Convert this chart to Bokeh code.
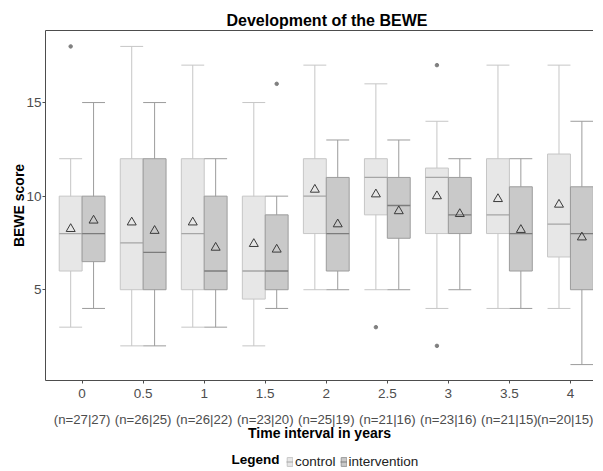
from bokeh.plotting import figure
from bokeh.layouts import column
from bokeh.models import (Range1d, LinearAxis, FixedTicker, Legend, LegendItem, ColumnDataSource, Label, Spacer)
from bokeh.embed import file_html
from bokeh.resources import INLINE

# ---------------- data ----------------
intervals = ["0", "0.5", "1", "1.5", "2", "2.5", "3", "3.5", "4"]
n_labels = ["(n=27|27)", "(n=26|25)", "(n=26|22)", "(n=23|20)", "(n=25|19)",
            "(n=21|16)", "(n=23|16)", "(n=21|15)", "(n=20|15)"]

ctrl_low = [3, 2, 3, 2, 5, 5, 4, 4, 4]
ctrl_q1 = [6, 5, 5, 4.5, 8, 9, 8, 8, 6.75]
ctrl_med = [8, 7.5, 8, 6, 10, 11, 11, 9, 8.5]
ctrl_q3 = [10, 12, 12, 10, 12, 12, 11.5, 12, 12.25]
ctrl_high = [12, 18, 17, 15, 17, 16, 14, 17, 17]
ctrl_mean = [8.25, 8.6, 8.6, 7.45, 10.35, 10.1, 10.0, 9.85, 9.55]
ctrl_out_cat = ["0", "2.5", "3", "3"]
ctrl_out_val = [18, 3, 17, 2]

int_low = [4, 2, 3, 4, 5, 5, 5, 4, 1]
int_q1 = [6.5, 5, 5, 5, 6, 7.75, 8, 6, 5]
int_med = [8, 7, 6, 6, 8, 9.5, 9, 8, 8]
int_q3 = [10, 12, 10, 9, 11, 11, 11, 10.5, 10.5]
int_high = [15, 15, 12, 10, 13, 13, 12, 12, 14]
int_mean = [8.7, 8.15, 7.25, 7.15, 8.5, 9.2, 9.05, 8.2, 7.8]
int_out_cat = ["1.5"]
int_out_val = [16]

# ---------------- styling ----------------
FONT = "Liberation Sans"
BOX_W = 0.375
HALF = BOX_W / 2
ctrl_fill, ctrl_line, ctrl_median = "#e7e7e7", "#c6c6c6", "#a6a6a6"
int_fill, int_line, int_median = "#c9c9c9", "#9c9c9c", "#7c7c7c"
FW = 548

p = figure(frame_width=FW, frame_height=350, x_range=Range1d(0.4, 0.4 + FW / 61.04),
           y_range=Range1d(0.15, 18.85),
           output_backend="svg", toolbar_location=None, x_axis_type=None,
           min_border_left=45, min_border_right=0, min_border_top=24, min_border_bottom=67)
p.background_fill_color = "white"
p.border_fill_color = "white"
p.outline_line_color = None
p.ygrid.visible = False

p.title.text = "Development of the BEWE"
p.title.align = "left"
p.title.offset = 181
p.title.text_font = FONT
p.title.text_font_size = "16px"
p.title.text_font_style = "bold"
p.title.text_color = "black"
p.title.standoff = 4


def build(offset, low, q1, med, q3, high, mean, out_cat, out_val, fill, line, medc):
    xs = [i + 1 + offset for i in range(len(intervals))]
    src = ColumnDataSource(dict(x=xs, x0=[x - HALF for x in xs], x1=[x + HALF for x in xs],
                                low=low, q1=q1, med=med, q3=q3, high=high, mean=mean))
    p.segment(x0="x", y0="low", x1="x", y1="high", source=src, line_color=line, line_width=1)
    p.segment(x0="x0", y0="low", x1="x1", y1="low", source=src, line_color=line, line_width=1)
    p.segment(x0="x0", y0="high", x1="x1", y1="high", source=src, line_color=line, line_width=1)
    p.vbar(x="x", width=BOX_W, bottom="q1", top="q3", source=src,
           fill_color=fill, line_color=line, line_width=1)
    p.segment(x0="x0", y0="med", x1="x1", y1="med", source=src, line_color=medc, line_width=1.3)
    ox = [intervals.index(c) + 1 + offset for c in out_cat]
    p.scatter(x=ox, y=out_val, marker="circle", size=3.5, color="#808080")
    p.scatter(x="x", y="mean", source=src, marker="triangle", size=9,
              fill_color=None, line_color="#3a3a3a", line_width=1)


build(-HALF, ctrl_low, ctrl_q1, ctrl_med, ctrl_q3, ctrl_high, ctrl_mean,
      ctrl_out_cat, ctrl_out_val, ctrl_fill, ctrl_line, ctrl_median)
build(HALF, int_low, int_q1, int_med, int_q3, int_high, int_mean,
      int_out_cat, int_out_val, int_fill, int_line, int_median)

AX = "#4d4d4d"
TICK_FS = "13.5px"
# y axis
ya = p.yaxis[0]
ya.ticker = FixedTicker(ticks=[5, 10, 15])
ya.axis_label = "BEWE score"
ya.axis_label_text_font = FONT
ya.axis_label_text_font_style = "bold"
ya.axis_label_text_font_size = "14px"
ya.axis_label_text_color = "black"
ya.axis_label_standoff = -4
ya.major_label_text_font = FONT
ya.major_label_text_font_size = TICK_FS
ya.major_label_text_color = AX
ya.major_label_standoff = 1
ya.major_tick_in = 0
ya.major_tick_out = 3
ya.major_tick_line_color = AX
ya.minor_tick_line_color = None
ya.axis_line_color = AX

# top border
top = LinearAxis(ticker=FixedTicker(ticks=[]), axis_line_color=AX,
                 major_tick_line_color=None, minor_tick_line_color=None,
                 major_label_text_font_size="0px")
p.add_layout(top, "above")

ticks = [i + 1 for i in range(len(intervals))]
xa = LinearAxis(ticker=FixedTicker(ticks=ticks),
                major_label_overrides={t: lab for t, lab in zip(ticks, intervals)})
xa.major_label_text_font = FONT
xa.major_label_text_font_size = TICK_FS
xa.major_label_text_color = AX
xa.major_label_standoff = 5
xa.major_tick_in = 0
xa.major_tick_out = 3
xa.major_tick_line_color = AX
xa.minor_tick_line_color = None
xa.axis_line_color = AX
p.add_layout(xa, "below")

xn = LinearAxis(ticker=FixedTicker(ticks=ticks),
                major_label_overrides={t: lab for t, lab in zip(ticks, n_labels)})
xn.major_label_text_font = FONT
xn.major_label_text_font_size = "13.2px"
xn.major_label_text_color = AX
xn.major_label_standoff = 11
xn.major_tick_in = 0
xn.major_tick_out = 0
xn.major_tick_line_color = None
xn.minor_tick_line_color = None
xn.axis_line_color = None
xn.axis_label = "Time interval in years"
xn.axis_label_text_font = FONT
xn.axis_label_text_font_style = "bold"
xn.axis_label_text_font_size = "14px"
xn.axis_label_text_color = "black"
xn.axis_label_standoff = -5
p.add_layout(xn, "below")

# ---------------- legend strip ----------------
LH = 22
q = figure(frame_width=FW, frame_height=LH, x_range=Range1d(0, FW), y_range=Range1d(0, LH),
           output_backend="svg", toolbar_location=None, x_axis_type=None, y_axis_type=None,
           min_border_left=45, min_border_right=0, min_border_top=0, min_border_bottom=0)
q.outline_line_color = None
q.xgrid.visible = False
q.ygrid.visible = False
nan = float("nan")
proxy = ColumnDataSource(dict(x=[nan], q1=[nan], q3=[nan], x0=[nan], x1=[nan], med=[nan]))
cb = q.vbar(x="x", width=1, bottom="q1", top="q3", source=proxy,
            fill_color=ctrl_fill, line_color=ctrl_line)
cm = q.segment(x0="x0", y0="med", x1="x1", y1="med", source=proxy, line_color=ctrl_median)
ib = q.vbar(x="x", width=1, bottom="q1", top="q3", source=proxy,
            fill_color=int_fill, line_color=int_line)
im = q.segment(x0="x0", y0="med", x1="x1", y1="med", source=proxy, line_color=int_median)

legend = Legend(items=[LegendItem(label="control", renderers=[cb, cm]),
                       LegendItem(label="intervention", renderers=[ib, im])],
                orientation="horizontal", location=(241, 0))
legend.label_text_font = FONT
legend.label_text_font_size = "13.5px"
legend.label_text_color = "#222222"
legend.glyph_width = 7
legend.glyph_height = 11
legend.label_standoff = 2
legend.spacing = 4
legend.padding = 2
legend.margin = 0
legend.border_line_color = None
legend.background_fill_alpha = 0
q.add_layout(legend, "center")
q.add_layout(Label(x=186, y=10, text="Legend", text_font=FONT, text_font_style="bold",
                   text_font_size="13.5px", text_color="black",
                   text_baseline="middle", text_align="left"))

layout = column(Spacer(height=6), p, q, spacing=0)
open("out.html", "w").write(file_html(layout, INLINE))
